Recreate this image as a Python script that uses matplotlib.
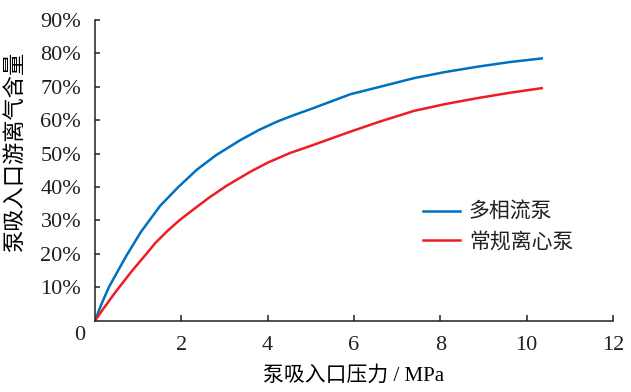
import numpy as np
import matplotlib
matplotlib.use('Agg')
import matplotlib.pyplot as plt

# pump inlet pressure (MPa) vs free gas content (%)
multiphase_p = [0, 0.15, 0.32, 0.5, 0.73, 1.06, 1.51, 1.93, 2.36, 2.8, 3.36, 3.8,
                4.22, 4.6, 4.99, 5.92, 6.6, 7.39, 8.1, 8.85, 9.6, 10.35]
multiphase_gas = [0, 5, 10, 14.2, 19.5, 26.5, 34.4, 40, 45.2, 49.5, 54, 57.1,
                  59.6, 61.5, 63.3, 67.8, 70, 72.6, 74.4, 76, 77.4, 78.5]
centrifugal_p = [0, 0.2, 0.42, 0.56, 0.85, 1.19, 1.4, 1.69, 1.95, 2.28, 2.65, 3.05,
                 3.6, 4.0, 4.52, 4.99, 5.92, 6.6, 7.39, 8.1, 8.85, 9.6, 10.35]
centrifugal_gas = [0, 3.7, 7.6, 10, 14.8, 20, 23.3, 27, 30, 33.3, 36.9, 40.4,
                   44.6, 47.3, 50.2, 52.3, 56.6, 59.6, 62.8, 64.8, 66.6, 68.2, 69.6]

series_names = ['多相流泵', '常规离心泵']
x_ticks = [2, 4, 6, 8, 10, 12]
y_ticks = [10, 20, 30, 40, 50, 60, 70, 80, 90]
y_tick_labels = ['%d%%' % v for v in y_ticks]

fonts = ['Liberation Serif', 'Noto Sans CJK SC']
plt.rcParams['font.family'] = fonts
plt.rcParams['text.color'] = '#231F20'

fig = plt.figure(figsize=(6.31, 3.92), dpi=100)
ax = fig.add_axes([95/631, 1 - 320.7/392, 518/631, 300.7/392])

ax.plot(multiphase_p, multiphase_gas, color='#0070C0', lw=1.8, label=series_names[0])
ax.plot(centrifugal_p, centrifugal_gas, color='#EE1C25', lw=1.8, label=series_names[1])

ax.set_xlim(0, 12)
ax.set_ylim(0, 90)
ax.set_xticks(x_ticks)
ax.set_yticks(y_ticks)
ax.set_yticklabels(y_tick_labels)

for s in ['top', 'right']:
    ax.spines[s].set_visible(False)
for s in ['left', 'bottom']:
    ax.spines[s].set_linewidth(1.1)
    ax.spines[s].set_color('#231F20')

ax.tick_params(axis='both', direction='in', width=1.1, color='#231F20',
               labelsize=16, labelcolor='#231F20')
ax.tick_params(axis='x', length=4.3, pad=11)
ax.tick_params(axis='y', length=3.6, pad=10)

ax.text(-0.029, -0.048, '0', transform=ax.transAxes, ha='center', va='center', fontsize=16)

ax.set_xlabel('泵吸入口压力 / MPa', fontsize=15)
ax.set_ylabel('泵吸入口游离气含量', fontsize=16)
ax.yaxis.set_label_coords(-0.133, 0.56)
ax.xaxis.set_label_coords(0.5, -0.152)

ax.legend(frameon=False, loc='center left', bbox_to_anchor=(0.633, 0.31),
          borderpad=0, borderaxespad=0, handlelength=1.76, handletextpad=0.45,
          labelspacing=0.45, fontsize=15)

fig.savefig('out.png', dpi=100)
